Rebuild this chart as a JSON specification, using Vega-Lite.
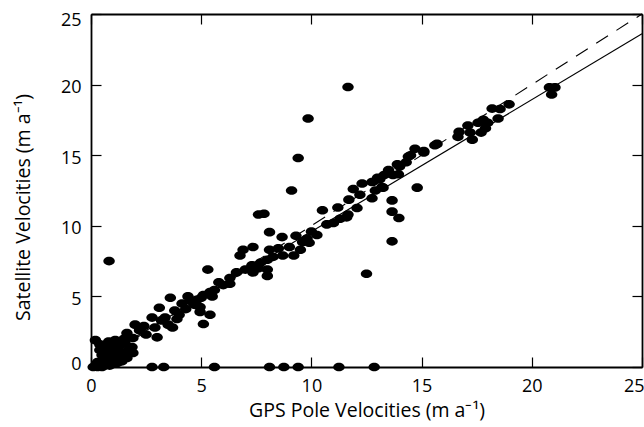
{
  "$schema": "https://vega.github.io/schema/vega-lite/v6.json",
  "width": 551,
  "height": 353,
  "autosize": "none",
  "padding": {"left": 91, "top": 14, "right": 2, "bottom": 60},
  "background": "white",
  "config": {
    "view": {"stroke": null},
    "font": "Open Sans",
    "axis": {
      "domainColor": "black", "domainWidth": 1.8,
      "tickColor": "black", "tickWidth": 1.2, "tickSize": -10,
      "labelColor": "black", "labelFontSize": 18, "labelPadding": 20,
      "titleColor": "black", "titleFontSize": 19.5, "titleFontWeight": "normal",
      "grid": false
    }
  },
  "datasets": {
    "pts": [
      {"gps": 0.1, "sat": 0}, {"gps": 0.3, "sat": 0}, {"gps": 0.5, "sat": 0}, {"gps": 0.25, "sat": 0.15}, {"gps": 0.6, "sat": 0.1}, {"gps": 0.85, "sat": 0.1},
      {"gps": 2.77, "sat": 0}, {"gps": 3.3, "sat": 0}, {"gps": 5.6, "sat": 0}, {"gps": 8.1, "sat": 0}, {"gps": 8.75, "sat": 0}, {"gps": 9.4, "sat": 0}, {"gps": 11.25, "sat": 0}, {"gps": 12.85, "sat": 0},
      {"gps": 0.2, "sat": 1.9}, {"gps": 0.4, "sat": 1.6}, {"gps": 1.1, "sat": 1.9}, {"gps": 0.64, "sat": 1.4}, {"gps": 0.95, "sat": 1.2}, {"gps": 1.2, "sat": 1.2},
      {"gps": 0.5, "sat": 0.85}, {"gps": 0.86, "sat": 0.64}, {"gps": 1.2, "sat": 0.64}, {"gps": 1.63, "sat": 0.64}, {"gps": 0.3, "sat": 0.35}, {"gps": 1.18, "sat": 0.28},
      {"gps": 0.64, "sat": 1.06}, {"gps": 1.0, "sat": 1.56}, {"gps": 1.86, "sat": 1.42}, {"gps": 1.54, "sat": 1.7}, {"gps": 1.9, "sat": 2.05}, {"gps": 1.63, "sat": 2.4},
      {"gps": 2.2, "sat": 2.6}, {"gps": 2.0, "sat": 3.0}, {"gps": 2.5, "sat": 2.3}, {"gps": 3.0, "sat": 2.1}, {"gps": 0.8, "sat": 1.8}, {"gps": 1.3, "sat": 1.5},
      {"gps": 1.5, "sat": 1.0}, {"gps": 1.7, "sat": 1.2}, {"gps": 0.4, "sat": 1.2}, {"gps": 1.0, "sat": 0.9}, {"gps": 1.4, "sat": 0.4}, {"gps": 0.7, "sat": 0.5},
      {"gps": 1.5, "sat": 2.0}, {"gps": 1.9, "sat": 1.0}, {"gps": 0.82, "sat": 7.5},
      {"gps": 2.77, "sat": 3.5}, {"gps": 2.9, "sat": 2.8}, {"gps": 3.5, "sat": 3.0}, {"gps": 3.7, "sat": 2.8}, {"gps": 3.36, "sat": 3.5}, {"gps": 3.1, "sat": 4.2},
      {"gps": 3.8, "sat": 4.0}, {"gps": 3.6, "sat": 4.9}, {"gps": 4.13, "sat": 4.5}, {"gps": 4.4, "sat": 5.0}, {"gps": 4.7, "sat": 4.4}, {"gps": 5.0, "sat": 4.9},
      {"gps": 5.4, "sat": 5.3}, {"gps": 4.95, "sat": 3.9}, {"gps": 5.4, "sat": 3.7}, {"gps": 5.1, "sat": 3.05}, {"gps": 4.8, "sat": 4.75}, {"gps": 4.95, "sat": 4.25},
      {"gps": 5.5, "sat": 5.0}, {"gps": 5.1, "sat": 5.1}, {"gps": 2.4, "sat": 2.9}, {"gps": 3.2, "sat": 3.3}, {"gps": 4.0, "sat": 3.7}, {"gps": 4.3, "sat": 4.1},
      {"gps": 3.9, "sat": 3.4}, {"gps": 4.5, "sat": 4.7},
      {"gps": 5.3, "sat": 6.9}, {"gps": 5.6, "sat": 5.45}, {"gps": 6.0, "sat": 5.8}, {"gps": 6.3, "sat": 5.9}, {"gps": 6.3, "sat": 6.3}, {"gps": 6.6, "sat": 6.7},
      {"gps": 7.0, "sat": 6.9}, {"gps": 7.35, "sat": 6.7}, {"gps": 7.3, "sat": 7.2}, {"gps": 7.7, "sat": 7.4}, {"gps": 8.0, "sat": 7.6}, {"gps": 8.0, "sat": 6.9},
      {"gps": 8.0, "sat": 6.45}, {"gps": 8.26, "sat": 7.8}, {"gps": 8.7, "sat": 7.9}, {"gps": 9.2, "sat": 7.9}, {"gps": 6.76, "sat": 7.9}, {"gps": 6.9, "sat": 8.3},
      {"gps": 7.35, "sat": 8.5}, {"gps": 8.1, "sat": 8.3}, {"gps": 8.5, "sat": 8.4}, {"gps": 9.0, "sat": 8.5}, {"gps": 9.5, "sat": 8.3}, {"gps": 9.9, "sat": 8.8},
      {"gps": 8.1, "sat": 9.55}, {"gps": 8.67, "sat": 9.2}, {"gps": 9.3, "sat": 9.3}, {"gps": 9.8, "sat": 9.1}, {"gps": 7.6, "sat": 10.8}, {"gps": 7.85, "sat": 10.85},
      {"gps": 5.8, "sat": 6.0}, {"gps": 7.6, "sat": 7.0}, {"gps": 9.6, "sat": 8.85}, {"gps": 10.25, "sat": 9.35},
      {"gps": 9.1, "sat": 12.5}, {"gps": 9.4, "sat": 14.8}, {"gps": 9.85, "sat": 17.6}, {"gps": 11.66, "sat": 19.83}, {"gps": 12.5, "sat": 6.6}, {"gps": 13.66, "sat": 8.9},
      {"gps": 10.5, "sat": 11.1}, {"gps": 11.2, "sat": 11.3}, {"gps": 10.7, "sat": 10.1}, {"gps": 11.3, "sat": 10.5}, {"gps": 11.66, "sat": 10.8}, {"gps": 11.6, "sat": 10.6},
      {"gps": 12.07, "sat": 11.26}, {"gps": 11.7, "sat": 11.85}, {"gps": 12.2, "sat": 12.2}, {"gps": 12.75, "sat": 11.95}, {"gps": 11.9, "sat": 12.6}, {"gps": 12.3, "sat": 13.0},
      {"gps": 12.75, "sat": 13.1}, {"gps": 13.0, "sat": 13.4}, {"gps": 13.25, "sat": 12.7}, {"gps": 12.9, "sat": 12.5}, {"gps": 13.3, "sat": 13.6}, {"gps": 13.5, "sat": 13.95},
      {"gps": 13.7, "sat": 13.6}, {"gps": 13.95, "sat": 13.65}, {"gps": 14.0, "sat": 14.2}, {"gps": 13.9, "sat": 14.35}, {"gps": 14.3, "sat": 14.5}, {"gps": 14.4, "sat": 14.9},
      {"gps": 14.5, "sat": 15.0}, {"gps": 14.7, "sat": 15.45}, {"gps": 15.1, "sat": 15.2}, {"gps": 15.6, "sat": 15.7}, {"gps": 13.66, "sat": 11.8}, {"gps": 13.66, "sat": 11.0},
      {"gps": 13.97, "sat": 10.55}, {"gps": 14.8, "sat": 12.7}, {"gps": 13.1, "sat": 13.3}, {"gps": 13.2, "sat": 12.75}, {"gps": 10.0, "sat": 9.6}, {"gps": 11.0, "sat": 10.2},
      {"gps": 15.1, "sat": 15.3}, {"gps": 15.7, "sat": 15.8}, {"gps": 16.65, "sat": 16.3}, {"gps": 16.7, "sat": 16.65}, {"gps": 17.2, "sat": 16.6}, {"gps": 17.3, "sat": 16.1},
      {"gps": 17.1, "sat": 17.1}, {"gps": 17.56, "sat": 17.3}, {"gps": 17.7, "sat": 16.6}, {"gps": 17.8, "sat": 17.5}, {"gps": 17.9, "sat": 16.9}, {"gps": 18.0, "sat": 17.3},
      {"gps": 18.2, "sat": 18.3}, {"gps": 18.47, "sat": 17.6}, {"gps": 18.56, "sat": 18.27}, {"gps": 18.97, "sat": 18.6}, {"gps": 20.8, "sat": 19.8}, {"gps": 21.05, "sat": 19.8},
      {"gps": 20.9, "sat": 19.3}
    ],
    "oneone": [{"gps": 0, "sat": 0}, {"gps": 25, "sat": 25}],
    "fit": [{"gps": 0, "sat": 0.25}, {"gps": 25, "sat": 23.6}]
  },
  "resolve": {"axis": {"x": "independent", "y": "independent"}},
  "layer": [
    {
      "data": {"name": "pts"},
      "mark": {"type": "point", "shape": "M-1,0A1,0.75 0 1,0 1,0A1,0.75 0 1,0 -1,0Z", "size": 132, "filled": true, "color": "black", "opacity": 1, "strokeWidth": 0, "clip": false},
      "encoding": {
        "x": {"field": "gps", "type": "quantitative", "scale": {"domain": [0, 25], "nice": false, "zero": false},
              "axis": {"orient": "bottom", "title": "GPS Pole Velocities (m a⁻¹)", "values": [0, 5, 10, 15, 20, 25], "labelFlush": false,
                       "labelAlign": {"condition": {"test": "datum.value == 25", "value": "right"}, "value": "center"},
                       "labelOffset": {"condition": {"test": "datum.value == 25", "value": 2}, "value": 0},
                       "titlePadding": 6}},
        "y": {"field": "sat", "type": "quantitative", "scale": {"domain": [0, 25], "nice": false, "zero": false},
              "axis": {"orient": "left", "title": "Satellite Velocities (m a⁻¹)", "values": [0, 5, 10, 15, 20, 25], "labelFlush": false,
                       "labelOffset": {"condition": [{"test": "datum.value == 0", "value": -3}, {"test": "datum.value == 25", "value": 6}], "value": 3},
                       "titlePadding": 27, "titleY": 193}}
      }
    },
    {
      "data": {"name": "oneone"},
      "mark": {"type": "line", "color": "black", "strokeWidth": 1.1, "strokeDash": [14, 10]},
      "encoding": {
        "x": {"field": "gps", "type": "quantitative", "axis": {"orient": "top", "title": null, "labels": false, "values": [0, 5, 10, 15, 20, 25]}},
        "y": {"field": "sat", "type": "quantitative", "axis": {"orient": "right", "title": null, "labels": false, "values": [0, 5, 10, 15, 20, 25]}}
      }
    },
    {
      "data": {"name": "fit"},
      "mark": {"type": "line", "color": "black", "strokeWidth": 1.1},
      "encoding": {
        "x": {"field": "gps", "type": "quantitative", "axis": null},
        "y": {"field": "sat", "type": "quantitative", "axis": null}
      }
    }
  ]
}
